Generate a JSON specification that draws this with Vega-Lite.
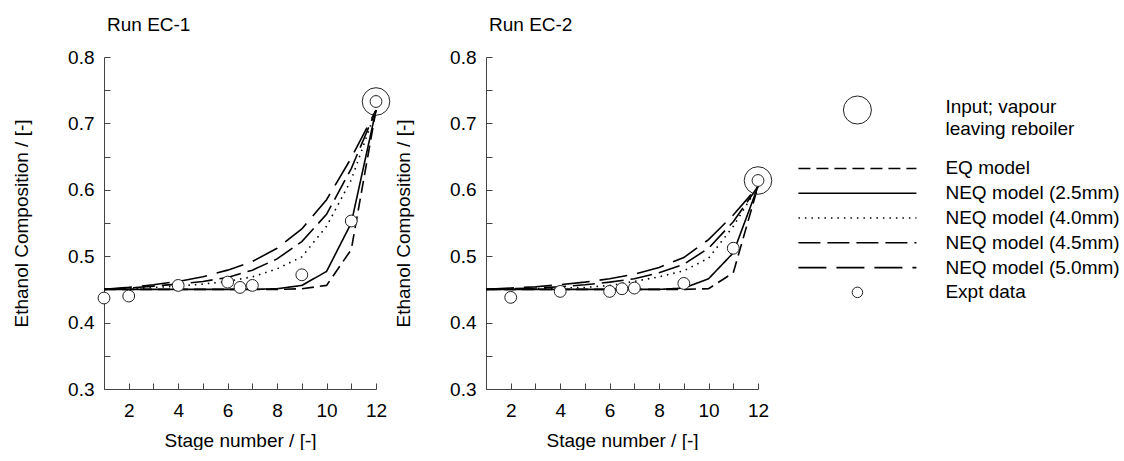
{
  "$schema": "https://vega.github.io/schema/vega-lite/v6.json",
  "padding": {"left": 12, "top": 16, "right": 0, "bottom": 0},
  "spacing": 2,
  "config": {
    "view": {"stroke": null},
    "font": "Liberation Sans",
    "axis": {
      "domainColor": "#444", "tickColor": "#444", "grid": false,
      "labelFontSize": 19, "titleFontSize": 19, "titleFontWeight": "normal",
      "labelColor": "#000", "titleColor": "#000", "labelFont": "Liberation Sans", "titleFont": "Liberation Sans"
    },
    "title": {"font": "Liberation Sans", "fontSize": 19, "fontWeight": "normal", "anchor": "start", "frame": "group", "offset": 13, "dx": 3, "color": "#000"}
  },
  "datasets": {
    "lines": [
      {"run":"EC-1","model":"EQ model","stage":1,"x":0.45},{"run":"EC-1","model":"EQ model","stage":2,"x":0.45},{"run":"EC-1","model":"EQ model","stage":3,"x":0.45},{"run":"EC-1","model":"EQ model","stage":4,"x":0.45},{"run":"EC-1","model":"EQ model","stage":5,"x":0.45},{"run":"EC-1","model":"EQ model","stage":6,"x":0.45},{"run":"EC-1","model":"EQ model","stage":7,"x":0.45},{"run":"EC-1","model":"EQ model","stage":8,"x":0.45},{"run":"EC-1","model":"EQ model","stage":9,"x":0.451},{"run":"EC-1","model":"EQ model","stage":10,"x":0.456},{"run":"EC-1","model":"EQ model","stage":11,"x":0.51},{"run":"EC-1","model":"EQ model","stage":12,"x":0.72},
      {"run":"EC-1","model":"NEQ model (2.5mm)","stage":1,"x":0.45},{"run":"EC-1","model":"NEQ model (2.5mm)","stage":2,"x":0.45},{"run":"EC-1","model":"NEQ model (2.5mm)","stage":3,"x":0.45},{"run":"EC-1","model":"NEQ model (2.5mm)","stage":4,"x":0.45},{"run":"EC-1","model":"NEQ model (2.5mm)","stage":5,"x":0.45},{"run":"EC-1","model":"NEQ model (2.5mm)","stage":6,"x":0.45},{"run":"EC-1","model":"NEQ model (2.5mm)","stage":7,"x":0.45},{"run":"EC-1","model":"NEQ model (2.5mm)","stage":8,"x":0.451},{"run":"EC-1","model":"NEQ model (2.5mm)","stage":9,"x":0.456},{"run":"EC-1","model":"NEQ model (2.5mm)","stage":10,"x":0.477},{"run":"EC-1","model":"NEQ model (2.5mm)","stage":11,"x":0.55},{"run":"EC-1","model":"NEQ model (2.5mm)","stage":12,"x":0.72},
      {"run":"EC-1","model":"NEQ model (4.0mm)","stage":1,"x":0.45},{"run":"EC-1","model":"NEQ model (4.0mm)","stage":2,"x":0.451},{"run":"EC-1","model":"NEQ model (4.0mm)","stage":3,"x":0.453},{"run":"EC-1","model":"NEQ model (4.0mm)","stage":4,"x":0.455},{"run":"EC-1","model":"NEQ model (4.0mm)","stage":5,"x":0.458},{"run":"EC-1","model":"NEQ model (4.0mm)","stage":6,"x":0.462},{"run":"EC-1","model":"NEQ model (4.0mm)","stage":7,"x":0.469},{"run":"EC-1","model":"NEQ model (4.0mm)","stage":8,"x":0.481},{"run":"EC-1","model":"NEQ model (4.0mm)","stage":9,"x":0.499},{"run":"EC-1","model":"NEQ model (4.0mm)","stage":10,"x":0.545},{"run":"EC-1","model":"NEQ model (4.0mm)","stage":11,"x":0.615},{"run":"EC-1","model":"NEQ model (4.0mm)","stage":12,"x":0.72},
      {"run":"EC-1","model":"NEQ model (4.5mm)","stage":1,"x":0.45},{"run":"EC-1","model":"NEQ model (4.5mm)","stage":2,"x":0.452},{"run":"EC-1","model":"NEQ model (4.5mm)","stage":3,"x":0.455},{"run":"EC-1","model":"NEQ model (4.5mm)","stage":4,"x":0.458},{"run":"EC-1","model":"NEQ model (4.5mm)","stage":5,"x":0.462},{"run":"EC-1","model":"NEQ model (4.5mm)","stage":6,"x":0.468},{"run":"EC-1","model":"NEQ model (4.5mm)","stage":7,"x":0.479},{"run":"EC-1","model":"NEQ model (4.5mm)","stage":8,"x":0.496},{"run":"EC-1","model":"NEQ model (4.5mm)","stage":9,"x":0.522},{"run":"EC-1","model":"NEQ model (4.5mm)","stage":10,"x":0.563},{"run":"EC-1","model":"NEQ model (4.5mm)","stage":11,"x":0.632},{"run":"EC-1","model":"NEQ model (4.5mm)","stage":12,"x":0.72},
      {"run":"EC-1","model":"NEQ model (5.0mm)","stage":1,"x":0.45},{"run":"EC-1","model":"NEQ model (5.0mm)","stage":2,"x":0.453},{"run":"EC-1","model":"NEQ model (5.0mm)","stage":3,"x":0.457},{"run":"EC-1","model":"NEQ model (5.0mm)","stage":4,"x":0.462},{"run":"EC-1","model":"NEQ model (5.0mm)","stage":5,"x":0.469},{"run":"EC-1","model":"NEQ model (5.0mm)","stage":6,"x":0.479},{"run":"EC-1","model":"NEQ model (5.0mm)","stage":7,"x":0.492},{"run":"EC-1","model":"NEQ model (5.0mm)","stage":8,"x":0.512},{"run":"EC-1","model":"NEQ model (5.0mm)","stage":9,"x":0.541},{"run":"EC-1","model":"NEQ model (5.0mm)","stage":10,"x":0.585},{"run":"EC-1","model":"NEQ model (5.0mm)","stage":11,"x":0.648},{"run":"EC-1","model":"NEQ model (5.0mm)","stage":12,"x":0.72},
      {"run":"EC-2","model":"EQ model","stage":1,"x":0.45},{"run":"EC-2","model":"EQ model","stage":2,"x":0.45},{"run":"EC-2","model":"EQ model","stage":3,"x":0.45},{"run":"EC-2","model":"EQ model","stage":4,"x":0.45},{"run":"EC-2","model":"EQ model","stage":5,"x":0.45},{"run":"EC-2","model":"EQ model","stage":6,"x":0.45},{"run":"EC-2","model":"EQ model","stage":7,"x":0.45},{"run":"EC-2","model":"EQ model","stage":8,"x":0.45},{"run":"EC-2","model":"EQ model","stage":9,"x":0.45},{"run":"EC-2","model":"EQ model","stage":10,"x":0.451},{"run":"EC-2","model":"EQ model","stage":11,"x":0.475},{"run":"EC-2","model":"EQ model","stage":12,"x":0.605},
      {"run":"EC-2","model":"NEQ model (2.5mm)","stage":1,"x":0.45},{"run":"EC-2","model":"NEQ model (2.5mm)","stage":2,"x":0.45},{"run":"EC-2","model":"NEQ model (2.5mm)","stage":3,"x":0.45},{"run":"EC-2","model":"NEQ model (2.5mm)","stage":4,"x":0.45},{"run":"EC-2","model":"NEQ model (2.5mm)","stage":5,"x":0.45},{"run":"EC-2","model":"NEQ model (2.5mm)","stage":6,"x":0.45},{"run":"EC-2","model":"NEQ model (2.5mm)","stage":7,"x":0.45},{"run":"EC-2","model":"NEQ model (2.5mm)","stage":8,"x":0.45},{"run":"EC-2","model":"NEQ model (2.5mm)","stage":9,"x":0.452},{"run":"EC-2","model":"NEQ model (2.5mm)","stage":10,"x":0.466},{"run":"EC-2","model":"NEQ model (2.5mm)","stage":11,"x":0.505},{"run":"EC-2","model":"NEQ model (2.5mm)","stage":12,"x":0.605},
      {"run":"EC-2","model":"NEQ model (4.0mm)","stage":1,"x":0.45},{"run":"EC-2","model":"NEQ model (4.0mm)","stage":2,"x":0.45},{"run":"EC-2","model":"NEQ model (4.0mm)","stage":3,"x":0.451},{"run":"EC-2","model":"NEQ model (4.0mm)","stage":4,"x":0.452},{"run":"EC-2","model":"NEQ model (4.0mm)","stage":5,"x":0.453},{"run":"EC-2","model":"NEQ model (4.0mm)","stage":6,"x":0.456},{"run":"EC-2","model":"NEQ model (4.0mm)","stage":7,"x":0.462},{"run":"EC-2","model":"NEQ model (4.0mm)","stage":8,"x":0.469},{"run":"EC-2","model":"NEQ model (4.0mm)","stage":9,"x":0.478},{"run":"EC-2","model":"NEQ model (4.0mm)","stage":10,"x":0.497},{"run":"EC-2","model":"NEQ model (4.0mm)","stage":11,"x":0.545},{"run":"EC-2","model":"NEQ model (4.0mm)","stage":12,"x":0.605},
      {"run":"EC-2","model":"NEQ model (4.5mm)","stage":1,"x":0.45},{"run":"EC-2","model":"NEQ model (4.5mm)","stage":2,"x":0.451},{"run":"EC-2","model":"NEQ model (4.5mm)","stage":3,"x":0.452},{"run":"EC-2","model":"NEQ model (4.5mm)","stage":4,"x":0.454},{"run":"EC-2","model":"NEQ model (4.5mm)","stage":5,"x":0.457},{"run":"EC-2","model":"NEQ model (4.5mm)","stage":6,"x":0.461},{"run":"EC-2","model":"NEQ model (4.5mm)","stage":7,"x":0.466},{"run":"EC-2","model":"NEQ model (4.5mm)","stage":8,"x":0.475},{"run":"EC-2","model":"NEQ model (4.5mm)","stage":9,"x":0.488},{"run":"EC-2","model":"NEQ model (4.5mm)","stage":10,"x":0.512},{"run":"EC-2","model":"NEQ model (4.5mm)","stage":11,"x":0.552},{"run":"EC-2","model":"NEQ model (4.5mm)","stage":12,"x":0.605},
      {"run":"EC-2","model":"NEQ model (5.0mm)","stage":1,"x":0.45},{"run":"EC-2","model":"NEQ model (5.0mm)","stage":2,"x":0.452},{"run":"EC-2","model":"NEQ model (5.0mm)","stage":3,"x":0.454},{"run":"EC-2","model":"NEQ model (5.0mm)","stage":4,"x":0.457},{"run":"EC-2","model":"NEQ model (5.0mm)","stage":5,"x":0.461},{"run":"EC-2","model":"NEQ model (5.0mm)","stage":6,"x":0.466},{"run":"EC-2","model":"NEQ model (5.0mm)","stage":7,"x":0.473},{"run":"EC-2","model":"NEQ model (5.0mm)","stage":8,"x":0.483},{"run":"EC-2","model":"NEQ model (5.0mm)","stage":9,"x":0.498},{"run":"EC-2","model":"NEQ model (5.0mm)","stage":10,"x":0.525},{"run":"EC-2","model":"NEQ model (5.0mm)","stage":11,"x":0.562},{"run":"EC-2","model":"NEQ model (5.0mm)","stage":12,"x":0.605}
    ],
    "expt": [
      {"run":"EC-1","stage":1,"x":0.437},{"run":"EC-1","stage":2,"x":0.44},{"run":"EC-1","stage":4,"x":0.456},{"run":"EC-1","stage":6,"x":0.461},{"run":"EC-1","stage":6.5,"x":0.453},{"run":"EC-1","stage":7,"x":0.456},{"run":"EC-1","stage":9,"x":0.472},{"run":"EC-1","stage":11,"x":0.553},{"run":"EC-1","stage":12,"x":0.733},
      {"run":"EC-2","stage":2,"x":0.438},{"run":"EC-2","stage":4,"x":0.447},{"run":"EC-2","stage":6,"x":0.447},{"run":"EC-2","stage":6.5,"x":0.451},{"run":"EC-2","stage":7,"x":0.452},{"run":"EC-2","stage":9,"x":0.459},{"run":"EC-2","stage":11,"x":0.512},{"run":"EC-2","stage":12,"x":0.614}
    ],
    "input": [
      {"run":"EC-1","stage":12,"x":0.733},{"run":"EC-2","stage":12,"x":0.614}
    ],
    "legendLines": [
      {"model":"EQ model","col":0,"row":1},{"model":"EQ model","col":1,"row":1},
      {"model":"NEQ model (2.5mm)","col":0,"row":2},{"model":"NEQ model (2.5mm)","col":1,"row":2},
      {"model":"NEQ model (4.0mm)","col":0,"row":3},{"model":"NEQ model (4.0mm)","col":1,"row":3},
      {"model":"NEQ model (4.5mm)","col":0,"row":4},{"model":"NEQ model (4.5mm)","col":1,"row":4},
      {"model":"NEQ model (5.0mm)","col":0,"row":5},{"model":"NEQ model (5.0mm)","col":1,"row":5}
    ],
    "legendText": [
      {"label":"Input; vapour","row":-1.48},{"label":"leaving reboiler","row":-0.59},
      {"label":"EQ model","row":1},{"label":"NEQ model (2.5mm)","row":2},{"label":"NEQ model (4.0mm)","row":3},
      {"label":"NEQ model (4.5mm)","row":4},{"label":"NEQ model (5.0mm)","row":5},{"label":"Expt data","row":6}
    ],
    "legendSymbols": [
      {"kind":"input","col":0.5,"row":-1.36},{"kind":"expt","col":0.5,"row":6}
    ]
  },
  "hconcat": [
    {
      "width": 272, "height": 332,
      "title": {"text": "Run EC-1"},
      "layer": [
        {
          "data": {"name": "lines"},
          "transform": [{"filter": "datum.run === 'EC-1'"}],
          "mark": {"type": "line", "color": "#000", "strokeWidth": 1.6},
          "encoding": {
            "x": {"field": "stage", "type": "quantitative", "scale": {"domain": [1, 12], "nice": false, "zero": false},
                  "axis": {"title": "Stage number / [-]", "values": [1,2,3,4,5,6,7,8,9,10,11,12], "tickCount": 30, "tickSize": -6, "labelPadding": 18, "titlePadding": 11, "labelOverlap": false, "labelFlush": false, "labelExpr": "datum.value % 2 ? '' : format(datum.value, 'd')"}},
            "y": {"field": "x", "type": "quantitative", "scale": {"domain": [0.3, 0.8], "nice": false, "zero": false},
                  "axis": {"title": "Ethanol Composition / [-]", "values": [0.3,0.35,0.4,0.45,0.5,0.55,0.6,0.65,0.7,0.75,0.8], "tickCount": 30, "tickSize": -6, "labelPadding": 16, "titlePadding": 36, "labelOverlap": false, "labelFlush": false, "labelExpr": "round(datum.value*100) % 10 === 0 ? format(datum.value, '.1f') : ''"}},
            "strokeDash": {"field": "model", "type": "nominal", "legend": null,
                  "scale": {"domain": ["EQ model","NEQ model (2.5mm)","NEQ model (4.0mm)","NEQ model (4.5mm)","NEQ model (5.0mm)"],
                            "range": [[12,6],[1,0],[1.5,5],[22,7],[28,10]]}}
          }
        },
        {
          "data": {"name": "input"},
          "transform": [{"filter": "datum.run === 'EC-1'"}],
          "mark": {"type": "point", "shape": "circle", "filled": false, "size": 760, "color": "#222", "strokeWidth": 1, "opacity": 1},
          "encoding": {"x": {"field": "stage", "type": "quantitative"}, "y": {"field": "x", "type": "quantitative"}}
        },
        {
          "data": {"name": "expt"},
          "transform": [{"filter": "datum.run === 'EC-1'"}],
          "mark": {"type": "circle", "size": 140, "fill": "#fff", "stroke": "#222", "strokeWidth": 1, "opacity": 1},
          "encoding": {"x": {"field": "stage", "type": "quantitative"}, "y": {"field": "x", "type": "quantitative"}}
        }
      ]
    },
    {
      "width": 272, "height": 332,
      "title": {"text": "Run EC-2"},
      "layer": [
        {
          "data": {"name": "lines"},
          "transform": [{"filter": "datum.run === 'EC-2'"}],
          "mark": {"type": "line", "color": "#000", "strokeWidth": 1.6},
          "encoding": {
            "x": {"field": "stage", "type": "quantitative", "scale": {"domain": [1, 12], "nice": false, "zero": false},
                  "axis": {"title": "Stage number / [-]", "values": [1,2,3,4,5,6,7,8,9,10,11,12], "tickCount": 30, "tickSize": -6, "labelPadding": 18, "titlePadding": 11, "labelOverlap": false, "labelFlush": false, "labelExpr": "datum.value % 2 ? '' : format(datum.value, 'd')"}},
            "y": {"field": "x", "type": "quantitative", "scale": {"domain": [0.3, 0.8], "nice": false, "zero": false},
                  "axis": {"title": "Ethanol Composition / [-]", "values": [0.3,0.35,0.4,0.45,0.5,0.55,0.6,0.65,0.7,0.75,0.8], "tickCount": 30, "tickSize": -6, "labelPadding": 16, "titlePadding": 36, "labelOverlap": false, "labelFlush": false, "labelExpr": "round(datum.value*100) % 10 === 0 ? format(datum.value, '.1f') : ''"}},
            "strokeDash": {"field": "model", "type": "nominal", "legend": null,
                  "scale": {"domain": ["EQ model","NEQ model (2.5mm)","NEQ model (4.0mm)","NEQ model (4.5mm)","NEQ model (5.0mm)"],
                            "range": [[12,6],[1,0],[1.5,5],[22,7],[28,10]]}}
          }
        },
        {
          "data": {"name": "input"},
          "transform": [{"filter": "datum.run === 'EC-2'"}],
          "mark": {"type": "point", "shape": "circle", "filled": false, "size": 760, "color": "#222", "strokeWidth": 1, "opacity": 1},
          "encoding": {"x": {"field": "stage", "type": "quantitative"}, "y": {"field": "x", "type": "quantitative"}}
        },
        {
          "data": {"name": "expt"},
          "transform": [{"filter": "datum.run === 'EC-2'"}],
          "mark": {"type": "circle", "size": 140, "fill": "#fff", "stroke": "#222", "strokeWidth": 1, "opacity": 1},
          "encoding": {"x": {"field": "stage", "type": "quantitative"}, "y": {"field": "x", "type": "quantitative"}}
        }
      ]
    },
    {
      "width": 330, "height": 332,
      "resolve": {"scale": {"strokeDash": "independent"}},
      "layer": [
        {
          "data": {"name": "legendLines"},
          "mark": {"type": "line", "color": "#000", "strokeWidth": 1.6},
          "encoding": {
            "x": {"field": "col", "type": "quantitative", "scale": {"domain": [-0.19, 2.607], "nice": false, "zero": false}, "axis": null},
            "y": {"field": "row", "type": "quantitative", "scale": {"domain": [-3.5, 9.9], "reverse": true, "nice": false, "zero": false}, "axis": null},
            "detail": {"field": "model"},
            "strokeDash": {"field": "model", "type": "nominal", "legend": null,
                  "scale": {"domain": ["EQ model","NEQ model (2.5mm)","NEQ model (4.0mm)","NEQ model (4.5mm)","NEQ model (5.0mm)"],
                            "range": [[12,6],[1,0],[1.5,5],[22,7],[28,10]]}}
          }
        },
        {
          "data": {"name": "legendSymbols"},
          "mark": {"type": "point", "shape": "circle", "filled": false, "color": "#222", "strokeWidth": 1, "opacity": 1},
          "encoding": {
            "x": {"field": "col", "type": "quantitative"},
            "y": {"field": "row", "type": "quantitative"},
            "size": {"field": "kind", "type": "nominal", "legend": null, "scale": {"domain": ["input", "expt"], "range": [785, 110]}}
          }
        },
        {
          "data": {"name": "legendText"},
          "mark": {"type": "text", "align": "left", "baseline": "middle", "fontSize": 19, "font": "Liberation Sans", "color": "#000"},
          "encoding": {
            "x": {"datum": 1.246, "type": "quantitative"},
            "y": {"field": "row", "type": "quantitative"},
            "text": {"field": "label"}
          }
        }
      ]
    }
  ]
}
